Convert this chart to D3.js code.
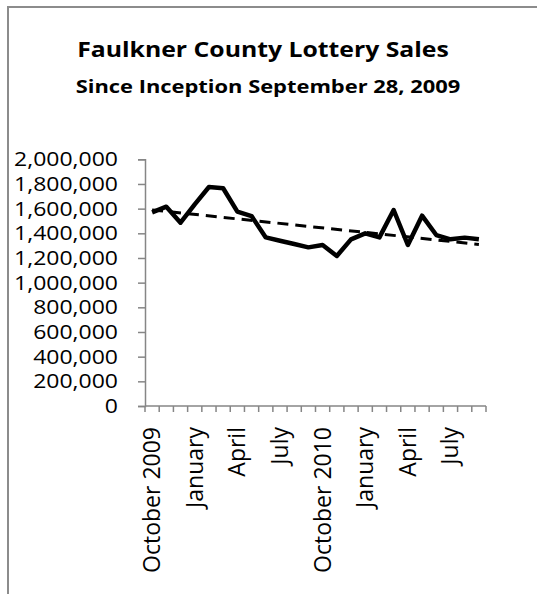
<!DOCTYPE html>
<html>
<head>
<meta charset="utf-8">
<script src="https://cdn.jsdelivr.net/npm/d3@7"></script>
<style>
  html, body { margin: 0; padding: 0; background: #fff; }
  svg { display: block; }
</style>
</head>
<body>
<svg id="chart"></svg>
<script>
// monthly sales, October 2009 .. September 2011
const months = [
    "Oct 2009", "Nov 2009", "Dec 2009", "Jan 2010", "Feb 2010", "Mar 2010",
    "Apr 2010", "May 2010", "Jun 2010", "Jul 2010", "Aug 2010", "Sep 2010",
    "Oct 2010", "Nov 2010", "Dec 2010", "Jan 2011", "Feb 2011", "Mar 2011",
    "Apr 2011", "May 2011", "Jun 2011", "Jul 2011", "Aug 2011", "Sep 2011"
];
const sales = [
    1570000, 1616000, 1486000, 1635000, 1775000, 1765000,
    1576000, 1540000, 1367000, 1340000, 1313000, 1286000,
    1305000, 1216000, 1351000, 1400000, 1367000, 1589000,
    1305000, 1543000, 1386000, 1351000, 1365000, 1351000
];
// shown on every third month
const tickLabels = ["October 2009", "January", "April", "July",
                    "October 2010", "January", "April", "July"];
const yTicks = [0, 200000, 400000, 600000, 800000, 1000000,
                1200000, 1400000, 1600000, 1800000, 2000000];

const title = "Faulkner County Lottery Sales";
const subtitle = "Since Inception September 28, 2009";

const W = 537, H = 594;
const plotLeft = 145, plotRight = 486, plotTop = 159.3, plotBottom = 406;
const font = "'Open Sans', 'DejaVu Sans', sans-serif";

const svg = d3.select("#chart")
    .attr("width", W)
    .attr("height", H);

/* frame (top and left edge only, as cropped) */
svg.append("path")
    .attr("d", `M8,${H} V7 H${W}`)
    .attr("fill", "none")
    .attr("stroke", "#8c8c8c")
    .attr("stroke-width", 2);

/* titles - the source picture is stretched sideways, so scale x */
svg.append("text")
    .attr("transform", "translate(263,57) scale(1.18,1)")
    .attr("text-anchor", "middle")
    .attr("font-family", font)
    .attr("font-weight", "bold")
    .attr("font-size", 21)
    .text(title);

svg.append("text")
    .attr("transform", "translate(268,93) scale(1.23,1)")
    .attr("text-anchor", "middle")
    .attr("font-family", font)
    .attr("font-weight", "bold")
    .attr("font-size", 17.8)
    .text(subtitle);

/* scales */
const x = d3.scaleBand()
    .domain(d3.range(months.length))
    .range([plotLeft, plotRight])
    .padding(0);

const y = d3.scaleLinear()
    .domain([0, 2000000])
    .range([plotBottom, plotTop]);

const cx = i => x(i) + x.bandwidth() / 2;

/* y axis */
const yAxis = svg.append("g")
    .attr("transform", `translate(${plotLeft},0)`)
    .call(d3.axisLeft(y).tickValues(yTicks).tickSize(7).tickFormat(""));
yAxis.selectAll("path, line").attr("stroke", "#868686").attr("stroke-width", 1.5);

svg.append("g")
    .selectAll("text")
    .data(yTicks)
    .enter()
    .append("text")
    .attr("transform", d => `translate(118,${y(d) + 7}) scale(1.15,1)`)
    .attr("text-anchor", "end")
    .attr("font-family", font)
    .attr("font-size", 20)
    .attr("fill", "#000")
    .text(d => d3.format(",")(d));

/* x axis: ticks on category boundaries */
svg.append("line")
    .attr("x1", plotLeft).attr("x2", plotRight)
    .attr("y1", plotBottom).attr("y2", plotBottom)
    .attr("stroke", "#868686").attr("stroke-width", 1.5);

svg.append("g")
    .selectAll("line")
    .data(d3.range(months.length + 1))
    .enter()
    .append("line")
    .attr("x1", i => plotLeft + i * x.bandwidth())
    .attr("x2", i => plotLeft + i * x.bandwidth())
    .attr("y1", plotBottom)
    .attr("y2", plotBottom + 6)
    .attr("stroke", "#868686")
    .attr("stroke-width", 1.5);

svg.append("g")
    .selectAll("text")
    .data(tickLabels)
    .enter()
    .append("text")
    .attr("transform", (d, k) => `translate(${cx(k * 3) + 8},427) rotate(-90)`)
    .attr("text-anchor", "end")
    .attr("font-family", font)
    .attr("font-size", 23)
    .attr("fill", "#000")
    .text(d => d);

/* sales line */
const line = d3.line()
    .x((d, i) => cx(i))
    .y(d => y(d));

svg.append("path")
    .datum(sales)
    .attr("d", line)
    .attr("fill", "none")
    .attr("stroke", "#000")
    .attr("stroke-width", 4.5)
    .attr("stroke-linejoin", "round");

/* linear trendline (least squares) */
const n = sales.length;
const mx = d3.mean(d3.range(n));
const my = d3.mean(sales);
const slope = d3.sum(sales, (v, i) => (i - mx) * (v - my)) /
              d3.sum(d3.range(n), i => (i - mx) * (i - mx));
const icpt = my - slope * mx;

svg.append("line")
    .attr("x1", cx(0)).attr("y1", y(icpt))
    .attr("x2", cx(n - 1)).attr("y2", y(icpt + slope * (n - 1)))
    .attr("stroke", "#000")
    .attr("stroke-width", 3)
    .attr("stroke-dasharray", "11,7");
</script>
</body>
</html>
